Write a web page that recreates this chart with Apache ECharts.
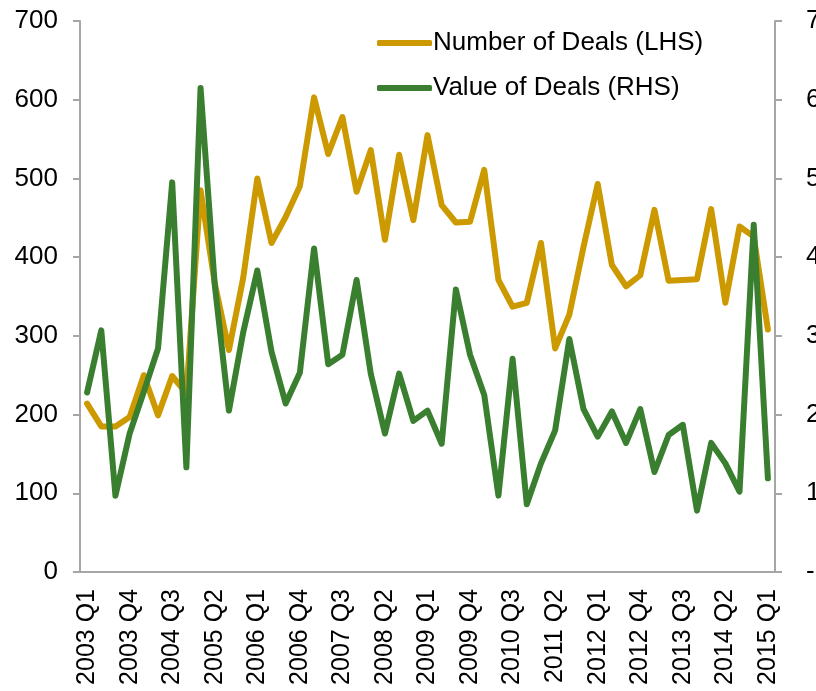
<!DOCTYPE html>
<html>
<head>
<meta charset="utf-8">
<script src="https://cdn.jsdelivr.net/npm/echarts@6/dist/echarts.min.js"></script>
<style>
  html, body { margin: 0; padding: 0; background: #fff; }
  #chart { width: 816px; height: 691px; }
</style>
</head>
<body>
<div id="chart"></div>
<script>
// 季度类目
const quarters = [
  '2003 Q1', '2003 Q2', '2003 Q3', '2003 Q4',
  '2004 Q1', '2004 Q2', '2004 Q3', '2004 Q4',
  '2005 Q1', '2005 Q2', '2005 Q3', '2005 Q4',
  '2006 Q1', '2006 Q2', '2006 Q3', '2006 Q4',
  '2007 Q1', '2007 Q2', '2007 Q3', '2007 Q4',
  '2008 Q1', '2008 Q2', '2008 Q3', '2008 Q4',
  '2009 Q1', '2009 Q2', '2009 Q3', '2009 Q4',
  '2010 Q1', '2010 Q2', '2010 Q3', '2010 Q4',
  '2011 Q1', '2011 Q2', '2011 Q3', '2011 Q4',
  '2012 Q1', '2012 Q2', '2012 Q3', '2012 Q4',
  '2013 Q1', '2013 Q2', '2013 Q3', '2013 Q4',
  '2014 Q1', '2014 Q2', '2014 Q3', '2014 Q4',
  '2015 Q1',
]

// 交易数量 (左轴)
const numberOfDeals = [
  214, 185, 185, 197, 250, 199, 249, 227, 485, 367, 282, 373,
  500, 418, 451, 490, 603, 531, 578, 483, 536, 422, 530, 447,
  555, 466, 444, 445, 511, 371, 337, 342, 418, 284, 327, 413,
  493, 390, 363, 377, 460, 370, 371, 372, 461, 342, 439, 426,
  308,
]

// 交易金额 (右轴)
const valueOfDeals = [
  2.28, 3.07, 0.97, 1.76, 2.29, 2.84, 4.95, 1.33, 6.15, 3.65, 2.05, 3.04,
  3.83, 2.80, 2.14, 2.53, 4.11, 2.64, 2.76, 3.71, 2.52, 1.76, 2.52, 1.92,
  2.05, 1.63, 3.59, 2.76, 2.25, 0.97, 2.71, 0.86, 1.38, 1.80, 2.96, 2.07,
  1.72, 2.04, 1.64, 2.07, 1.27, 1.74, 1.87, 0.78, 1.64, 1.38, 1.02, 4.41,
  1.19,
]

const font = 'Liberation Sans, Arial, sans-serif'
const axisGrey = '#A6A6A6'

const chart = echarts.init(document.getElementById('chart'))

chart.setOption({
  animation: false,
  textStyle: { fontFamily: font, color: '#000' },
  grid: { left: 80, right: 41, top: 21, bottom: 119, outerBoundsMode: 'none', containLabel: false },
  legend: {
    orient: 'vertical',
    left: 372,
    top: 25,
    itemWidth: 55,
    itemHeight: 6,
    itemGap: 19,
    icon: 'roundRect',
    textStyle: { fontFamily: font, fontSize: 26, color: '#000', padding: [0, 0, 0, -4] },
    data: ['Number of Deals (LHS)', 'Value of Deals (RHS)'],
  },
  xAxis: {
    type: 'category',
    data: quarters,
    boundaryGap: true,
    axisLine: { lineStyle: { color: axisGrey, width: 2 } },
    axisTick: { interval: 0, length: 7, lineStyle: { color: axisGrey, width: 2 } },
    axisLabel: {
      interval: 2,
      rotate: 90,
      margin: 17,
      fontSize: 25,
      fontFamily: font,
      color: '#000',
    },
  },
  yAxis: [
    {
      type: 'value',
      min: 0,
      max: 700,
      interval: 100,
      splitLine: { show: false },
      axisLine: { show: true, lineStyle: { color: axisGrey, width: 2 } },
      axisTick: { show: true, length: 7, lineStyle: { color: axisGrey, width: 2 } },
      axisLabel: { fontSize: 26, fontFamily: font, color: '#000', margin: 22 },
    },
    {
      type: 'value',
      min: 0,
      max: 7,
      interval: 1,
      position: 'right',
      splitLine: { show: false },
      axisLine: { show: true, lineStyle: { color: axisGrey, width: 2 } },
      axisTick: { show: true, length: 7, lineStyle: { color: axisGrey, width: 2 } },
      axisLabel: {
        fontSize: 26,
        fontFamily: font,
        color: '#000',
        margin: 31,
        formatter: (v) => (v === 0 ? '-' : String(v)),
      },
    },
  ],
  series: [
    {
      name: 'Number of Deals (LHS)',
      type: 'line',
      yAxisIndex: 0,
      data: numberOfDeals,
      showSymbol: false,
      symbol: 'none',
      color: '#CC9900',
      lineStyle: { width: 6, color: '#CC9900', cap: 'round', join: 'round' },
    },
    {
      name: 'Value of Deals (RHS)',
      type: 'line',
      yAxisIndex: 1,
      data: valueOfDeals,
      showSymbol: false,
      symbol: 'none',
      color: '#3A7F2F',
      lineStyle: { width: 6, color: '#3A7F2F', cap: 'round', join: 'round' },
    },
  ],
})
</script>
</body>
</html>
